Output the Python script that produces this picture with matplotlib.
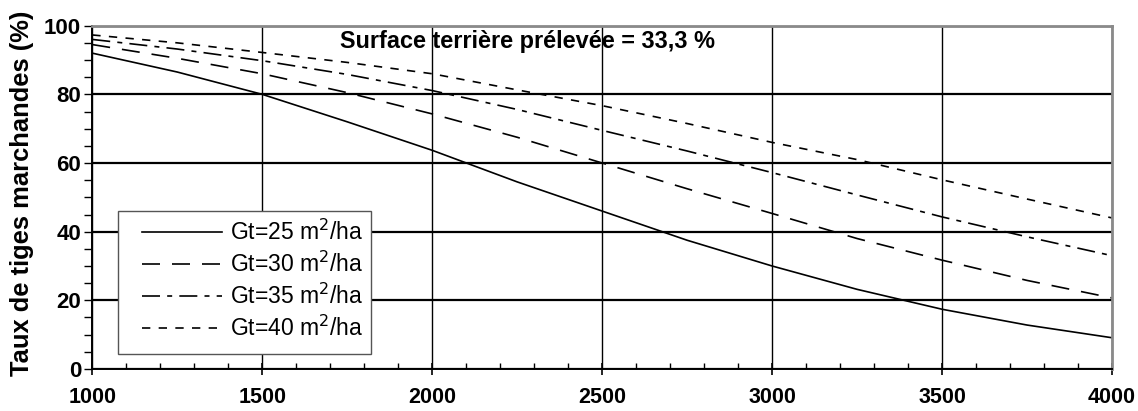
import matplotlib.pyplot as plt
from matplotlib.ticker import MultipleLocator
from matplotlib.patches import Rectangle

plt.rcParams['font.family'] = ['Liberation Sans', 'DejaVu Sans']

# stems per hectare (x) and share of merchantable stems (%) for each basal area
densite = [1000, 1250, 1500, 1750, 2000, 2250, 2500, 2750, 3000, 3250, 3500, 3750, 4000]
gt25 = [92.0, 86.5, 80.0, 72.0, 63.7, 54.5, 46.0, 37.5, 30.0, 23.2, 17.4, 12.8, 9.1]
gt30 = [94.5, 90.5, 86.0, 80.5, 74.3, 67.5, 60.0, 52.5, 45.3, 38.0, 31.7, 25.8, 20.7]
gt35 = [96.0, 93.2, 89.8, 85.8, 81.1, 75.6, 69.5, 63.5, 57.2, 50.7, 44.3, 38.5, 33.0]
gt40 = [97.3, 95.0, 92.2, 89.3, 86.0, 81.3, 76.7, 71.5, 66.0, 61.0, 55.1, 49.5, 44.0]
labels = ['Gt=25 m$^2$/ha', 'Gt=30 m$^2$/ha', 'Gt=35 m$^2$/ha', 'Gt=40 m$^2$/ha']

fig = plt.figure(figsize=(11.38, 4.11), dpi=100)
ax = fig.add_axes([0.0811, 0.1022, 0.8961, 0.8353])

# one dash pattern per series
styles = ['-', (0, (10.8, 7.2)), (0, (10.8, 4.3, 3, 4.3)), (0, (5, 5))]
for serie, lab, ls in zip([gt25, gt30, gt35, gt40], labels, styles):
    ax.plot(densite, serie, color='black', lw=1.2, linestyle=ls, label=lab)

ax.set_xlim(1000, 4000)
ax.set_ylim(0, 100)
ax.xaxis.set_major_locator(MultipleLocator(500))
ax.xaxis.set_minor_locator(MultipleLocator(100))
ax.yaxis.set_major_locator(MultipleLocator(20))
ax.yaxis.set_minor_locator(MultipleLocator(5))

# grid: horizontal lines a bit heavier than vertical ones
ax.yaxis.grid(True, which='major', color='black', lw=1.6)
ax.xaxis.grid(True, which='major', color='black', lw=1.0)
ax.set_axisbelow(True)

ax.tick_params(axis='x', which='major', direction='inout', length=8, width=1.2,
               labelsize=15.5, pad=9)
ax.tick_params(axis='x', which='minor', direction='in', length=4, width=1.0)
ax.tick_params(axis='y', which='both', direction='out', length=6, width=1.0,
               labelsize=16, pad=2)
for lab in ax.get_xticklabels() + ax.get_yticklabels():
    lab.set_fontweight('bold')

for side in ['left', 'bottom']:
    ax.spines[side].set_color('black')
    ax.spines[side].set_linewidth(1.4)
for side in ['top', 'right']:
    ax.spines[side].set_color('#8a8a8a')
    ax.spines[side].set_linewidth(2.0)

fig.text(22 / 1138, 1 - 193.5 / 411, 'Taux de tiges marchandes (%)', fontsize=18.4,
         fontweight='bold', rotation=90, ha='center', va='center')

ax.text(1728, 95.3, 'Surface terrière prélevée = 33,3 %', fontsize=16.9,
        fontweight='bold', va='center', ha='left')

# legend box drawn separately so its padding can differ left/right vs top/bottom
ax.add_patch(Rectangle((0.025, 0.044), 0.248, 0.415, transform=ax.transAxes,
                       facecolor='white', edgecolor='#555555', lw=1.0, zorder=4))
ax.legend(loc='center left', bbox_to_anchor=(0.0487, 0.259), borderaxespad=0,
          fontsize=16.5, handlelength=3.5, handletextpad=0.35, labelspacing=0.3,
          borderpad=0, frameon=False)

fig.savefig('out.png', dpi=100)
